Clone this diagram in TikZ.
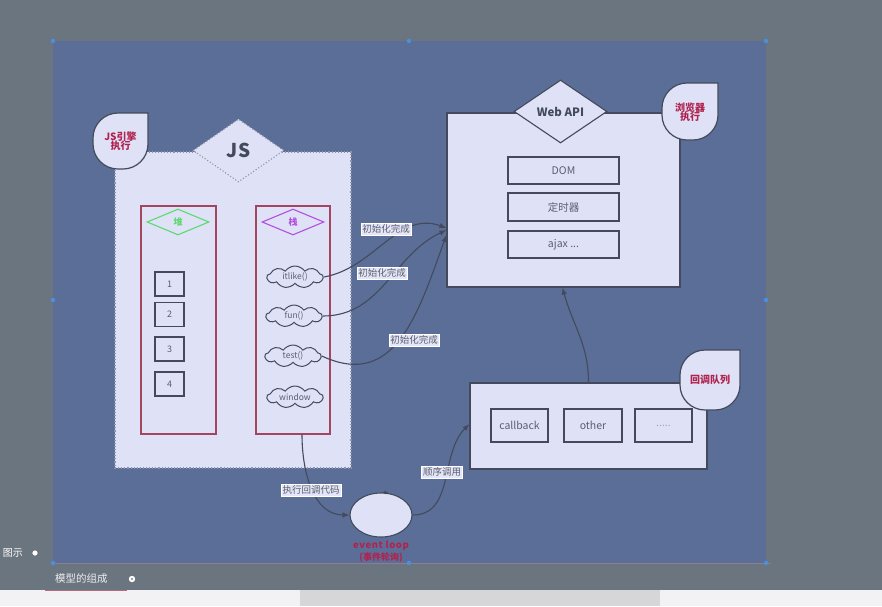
\documentclass[tikz,border=0pt]{standalone}
\usepackage{fontspec}
\setmainfont{Noto Sans CJK SC}
\usetikzlibrary{shapes.geometric,shapes.symbols,arrows.meta,calc}

\definecolor{bggray}{HTML}{6B757F}
\definecolor{canvasblue}{HTML}{5B6E97}
\definecolor{panelfill}{HTML}{DFE2F6}
\definecolor{strokegray}{HTML}{434A5C}
\definecolor{dotgray}{HTML}{8E93A6}
\definecolor{framered}{HTML}{A3455F}
\definecolor{alertred}{HTML}{B0234F}
\definecolor{textgray}{HTML}{5A5F6E}
\definecolor{heapgreen}{HTML}{5ED870}
\definecolor{stackpurple}{HTML}{B24FE0}
\definecolor{handleblue}{HTML}{4A8FE0}
\definecolor{stripwhite}{HTML}{F2F2F5}
\definecolor{bargray}{HTML}{D6D6D8}
\definecolor{edgepink}{HTML}{8F7C92}

% rounded label shape with one sharp corner (top right)
% #1 x left, #2 y top, #3 x right, #4 y bottom (all in px, y downwards)
\newcommand\tearshape[4]{%
  \draw[tear] (#3,-#2) -- (#3,{-#4+25})
    arc[start angle=0,end angle=-90,radius=25] -- ({#1+25},-#4)
    arc[start angle=270,end angle=180,radius=25] -- (#1,{-#2-25})
    arc[start angle=180,end angle=90,radius=25] -- cycle;}

\begin{document}
\begin{tikzpicture}[x=1pt,y=1pt,
  panel/.style={draw=strokegray, line width=1.1pt, fill=panelfill, inner sep=0pt},
  dotpanel/.style={draw=dotgray, dotted, line width=1.1pt, fill=panelfill, inner sep=0pt},
  frame/.style={draw=framered, line width=1.3pt, fill=panelfill, inner sep=0pt},
  item/.style={panel, font=\fontsize{10.5}{11}\selectfont, text=textgray},
  cell/.style={panel, minimum width=29, minimum height=24, font=\fontsize{9}{10}\selectfont, text=textgray},
  tag/.style={fill=panelfill!85!white, draw=white, line width=0.3pt, inner sep=1.6pt,
    font=\fontsize{9.5}{10}\selectfont, text=textgray},
  flow/.style={draw=strokegray, line width=1.1pt, -{Latex[length=7pt,width=5.5pt]}},
  tear/.style={draw=strokegray, line width=1.2pt, fill=panelfill},
  teartext/.style={font=\bfseries\fontsize{10}{12}\selectfont, text=alertred, align=center},
  puff/.style={cloud, cloud puffs=9, cloud puff arc=110, aspect=2.7, draw=strokegray,
    line width=1pt, fill=panelfill, inner sep=0pt, minimum width=56, minimum height=22},
  pufftext/.style={font=\fontsize{8.5}{9}\selectfont, text=textgray, inner sep=0pt},
  handle/.style={fill=handleblue},
]
\useasboundingbox (0,0) rectangle (882,-606);
\clip (0,0) rectangle (882,-606);

% editor background, bottom strip and scrollbar
\fill[bggray] (0,0) rectangle (882,-606);
\fill[stripwhite] (0,-590) rectangle (882,-606);
\fill[bargray] (300,-590) rectangle (660,-606);

% canvas
\fill[canvasblue] (53,-41) rectangle (766,-563);
\draw[edgepink, line width=1pt] (53,-563.5) -- (771,-563.5);
\foreach \hx/\hy in {53/41,409/41,766/41,53/300,766/300,53/563,409/563,766/563}
  \fill[handle] (\hx,-\hy) circle (2.2);

% captions below the canvas
\node[anchor=east, text=white, font=\fontsize{10}{11}\selectfont, inner sep=0pt] (capfig) at (23,-553) {图示};
\fill[white] (35,-553) circle (2.6);
\node[anchor=west, text=white!88!bggray, font=\fontsize{10.5}{12}\selectfont, inner sep=0pt] (capparts) at (55,-579) {模型的组成};
\fill[white] (132,-579) circle (3.2);
\fill[bggray!70!white] (132,-579) circle (1.4);
\draw[framered!80!white, line width=0.6pt] (45,-590.5) -- (127,-590.5);

% ---------- JS engine ----------
\node[dotpanel, minimum width=236, minimum height=316] (engine) at (233,-310) {};
\node[dotpanel, diamond, minimum width=91, minimum height=63, text=strokegray,
  font=\bfseries\fontsize{19}{20}\selectfont] (jsd) at (238.5,-150.5) {JS};
\tearshape{93}{113}{148}{169}
\node[teartext] (jstag) at (120.5,-141) {JS引擎\\[-3pt]执行};

% heap
\node[frame, minimum width=75, minimum height=228] (heap) at (178.5,-320) {};
\node[diamond, draw=heapgreen, line width=1.1pt, fill=panelfill, inner sep=0pt,
  minimum width=62, minimum height=26, text=heapgreen, font=\bfseries\fontsize{9}{10}\selectfont]
  (heapd) at (178,-222) {堆};
\node[cell] (c1) at (169.5,-284) {1};
\node[cell] (c2) at (169.5,-314.5) {2};
\node[cell] (c3) at (169.5,-349) {3};
\node[cell] (c4) at (169.5,-384) {4};

% stack: frames drawn as clouds, captions set on top
\node[frame, minimum width=74, minimum height=228] (stack) at (293,-320) {};
\node[diamond, draw=stackpurple, line width=1.1pt, fill=panelfill, inner sep=0pt,
  minimum width=62, minimum height=26, text=stackpurple, font=\bfseries\fontsize{9}{10}\selectfont]
  (stackd) at (293,-222) {栈};
\node[puff] (itlike) at (295,-277) {};
\node[pufftext] (itliketxt) at (itlike.center) {itlike()};
\node[puff] (fun) at (294,-316) {};
\node[pufftext] (funtxt) at (fun.center) {fun()};
\node[puff] (test) at (293,-356) {};
\node[pufftext] (testtxt) at (test.center) {test()};
\node[puff] (window) at (295,-397) {};
\node[pufftext] (windowtxt) at (window.center) {window};

% ---------- Web API ----------
\node[panel, minimum width=233, minimum height=174] (webapi) at (563.5,-200) {};
\node[panel, diamond, minimum width=93, minimum height=63, text=strokegray,
  font=\bfseries\fontsize{11.5}{12}\selectfont] (webd) at (560.5,-111.5) {Web API};
\tearshape{662}{83}{718}{140}
\node[teartext] (browsertag) at (690,-112) {浏览器\\[-3pt]执行};
\node[item, minimum width=111, minimum height=27] (dom) at (563.5,-170.5) {DOM};
\node[item, minimum width=111, minimum height=28] (timer) at (563.5,-207) {定时器};
\node[item, minimum width=111, minimum height=27] (ajax) at (563.5,-244.5) {ajax ...};

% ---------- callback queue ----------
\node[panel, minimum width=237, minimum height=86] (queue) at (588.5,-426) {};
\tearshape{680}{350}{740}{410}
\node[teartext] (queuetag) at (710,-380) {回调队列};
\node[item, minimum width=57, minimum height=33] (cb) at (519.5,-425.5) {callback};
\node[item, minimum width=58, minimum height=33] (other) at (593,-425.5) {other};
\node[item, minimum width=57, minimum height=33, text=textgray!45!panelfill] (more) at (663.5,-425.5) {.....};

% ---------- event loop ----------
\node[panel, ellipse, minimum width=62, minimum height=44] (loop) at (381,-515) {};
\draw[strokegray, line width=0.8pt, -{Latex[length=4pt,width=4pt]}] ([xshift=7]loop.north) -- ([xshift=1]loop.north);
\node[font=\bfseries\fontsize{9.5}{10}\selectfont, text=alertred, inner sep=0pt] (looplbl) at (381,-546) {\addfontfeature{LetterSpace=6}event loop};
\node[font=\bfseries\fontsize{9}{10}\selectfont, text=alertred, inner sep=0pt] (looplbl2) at (381,-558) {(事件轮询)};

% ---------- connectors ----------
\draw[flow] (itlike.east) to[out=10,in=160] ([yshift=-28]webapi.west);
\draw[flow] (fun.east) to[out=0,in=205] ([yshift=-30]webapi.west);
\draw[flow] (test.east) to[out=-25,in=250,looseness=1.2] ([yshift=-35]webapi.west);
\draw[flow] (queue.north) to[out=90,in=-75] ([xshift=-1]webapi.south);
\draw[flow] ([xshift=9]stack.south) to[out=-90,in=180] (loop.west);
\draw[flow] (loop.east) to[out=0,in=225] ([yshift=2]queue.west);

\node[tag] (init1) at (386,-229) {初始化完成};
\node[tag] (init2) at (382,-273) {初始化完成};
\node[tag] (init3) at (414,-340) {初始化完成};
\node[tag] (runcb) at (311,-490) {执行回调代码};
\node[tag] (order) at (442,-472) {顺序调用};
\end{tikzpicture}
\end{document}
